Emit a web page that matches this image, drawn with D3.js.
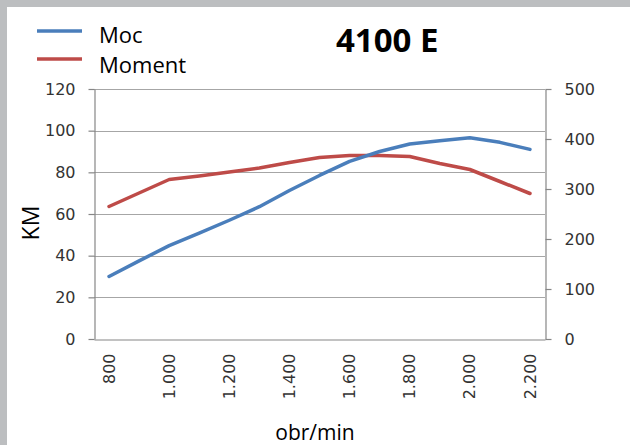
<!DOCTYPE html>
<html>
<head>
<meta charset="utf-8">
<script src="https://cdn.jsdelivr.net/npm/d3@7"></script>
<style>
  html, body { margin: 0; padding: 0; background: #fff; }
  svg { display: block; }
</style>
</head>
<body>
<svg id="chart" width="630" height="445"></svg>
<script>
// ---- data ----
const categories = [800, 900, 1000, 1100, 1200, 1300, 1400, 1500, 1600, 1700, 1800, 1900, 2000, 2100, 2200];
const mocValues = [30, 37.5, 44.8, 50.8, 57, 63.5, 71.3, 78.5, 85.3, 90, 93.6, 95.2, 96.6, 94.4, 91];
const momentValues = [265, 292, 319, 326, 334, 342, 353, 363, 367, 367, 365, 351, 339, 315, 291];
const xTickLabels = ["800", "1.000", "1.200", "1.400", "1.600", "1.800", "2.000", "2.200"];
const xTickValues = [800, 1000, 1200, 1400, 1600, 1800, 2000, 2200];
const leftTicks = [0, 20, 40, 60, 80, 100, 120];
const rightTicks = [0, 100, 200, 300, 400, 500];
const seriesNames = ["Moc", "Moment"];
const title = "4100 E";
const yLeftTitle = "KM";
const xTitle = "obr/min";

// ---- layout ----
const W = 630, H = 445;
const plot = { left: 94, right: 545, top: 89, bottom: 339 };
const colors = { Moc: "#4A7EBB", Moment: "#BE4B48" };

const svg = d3.select("#chart");
svg.append("rect").attr("x", 0).attr("y", 0).attr("width", W).attr("height", H).attr("fill", "#bcbec0");
svg.append("rect").attr("x", 7).attr("y", 7).attr("width", W - 7).attr("height", H - 7).attr("fill", "#ffffff");

const x = d3.scaleBand().domain(categories).range([plot.left, plot.right]);
const yL = d3.scaleLinear().domain([0, 120]).range([plot.bottom, plot.top]);
const yR = d3.scaleLinear().domain([0, 500]).range([plot.bottom, plot.top]);
const cx = d => x(d) + x.bandwidth() / 2;

// gridlines
svg.append("g").selectAll("line").data(leftTicks.filter(d => d > 0)).join("line")
  .attr("x1", plot.left).attr("x2", plot.right)
  .attr("y1", d => Math.round(yL(d)) + 0.5).attr("y2", d => Math.round(yL(d)) + 0.5)
  .attr("stroke", "#a6a6a6").attr("stroke-width", 1.2);

// left axis
const gL = svg.append("g").attr("transform", `translate(${plot.left + 0.5},0)`)
  .call(d3.axisLeft(yL).tickValues(leftTicks).tickSize(6).tickPadding(13).tickSizeOuter(0));
// right axis
const gR = svg.append("g").attr("transform", `translate(${plot.right + 0.5},0)`)
  .call(d3.axisRight(yR).tickValues(rightTicks).tickSize(6).tickPadding(13).tickSizeOuter(0));
[gL, gR].forEach(g => {
  g.select(".domain").attr("stroke", "#868686").attr("stroke-width", 1.2);
  g.selectAll(".tick line").attr("stroke", "#868686").attr("stroke-width", 1.2);
  g.selectAll(".tick text").attr("fill", "#333333")
    .style("font-family", "'DejaVu Sans', sans-serif").style("font-size", "16px");
});

// bottom axis
const gB = svg.append("g").attr("transform", `translate(0,${plot.bottom + 0.5})`)
  .call(d3.axisBottom(x).tickValues(xTickValues).tickSize(0).tickSizeOuter(0)
    .tickFormat((d, i) => xTickLabels[i]));
gB.select(".domain").attr("stroke", "#868686").attr("stroke-width", 1.2);
gB.selectAll(".tick text")
  .attr("fill", "#333333")
  .style("font-family", "'DejaVu Sans', sans-serif").style("font-size", "16px")
  .attr("text-anchor", "end")
  .attr("x", 0).attr("y", 0).attr("dy", "0.35em")
  .attr("transform", "translate(0,14) rotate(-90)");

// lines
const lineL = d3.line().x((d, i) => cx(categories[i])).y(d => yL(d));
const lineR = d3.line().x((d, i) => cx(categories[i])).y(d => yR(d));
svg.append("path").datum(momentValues).attr("d", lineR)
  .attr("fill", "none").attr("stroke", colors.Moment).attr("stroke-width", 3.5)
  .attr("stroke-linejoin", "round").attr("stroke-linecap", "round");
svg.append("path").datum(mocValues).attr("d", lineL)
  .attr("fill", "none").attr("stroke", colors.Moc).attr("stroke-width", 3.5)
  .attr("stroke-linejoin", "round").attr("stroke-linecap", "round");

// legend
const leg = svg.append("g");
seriesNames.forEach((name, i) => {
  const ly = 31 + i * 28;
  leg.append("line").attr("x1", 37).attr("x2", 82).attr("y1", ly).attr("y2", ly)
    .attr("stroke", colors[name]).attr("stroke-width", 3.5);
  leg.append("text").attr("x", 99).attr("y", ly + 12 + i * 2).text(name)
    .attr("fill", "#000").style("font-family", "'Open Sans', sans-serif").style("font-size", "22px");
});

// title
svg.append("text").attr("x", 336).attr("y", 52).text(title)
  .attr("fill", "#000").style("font-family", "'Open Sans', sans-serif")
  .style("font-weight", "700").style("font-size", "33px");

// axis titles
svg.append("text").attr("transform", "translate(39,223) rotate(-90)")
  .attr("text-anchor", "middle").text(yLeftTitle)
  .attr("fill", "#000").style("font-family", "'Open Sans', sans-serif").style("font-size", "23px");
svg.append("text").attr("x", 315).attr("y", 440).attr("text-anchor", "middle").text(xTitle)
  .attr("fill", "#000").style("font-family", "'Open Sans', sans-serif").style("font-size", "21px");
</script>
</body>
</html>
